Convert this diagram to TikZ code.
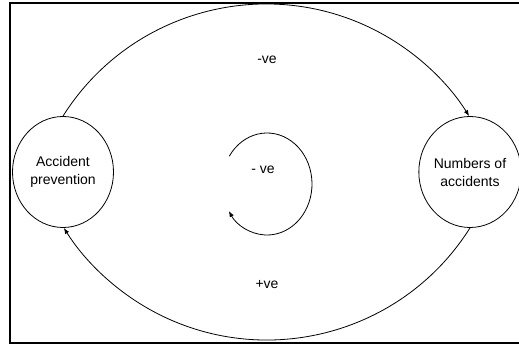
\documentclass[tikz,border=0pt]{standalone}
\usepackage{fontspec}
\setmainfont{Liberation Sans}
\usetikzlibrary{arrows.meta,shapes.geometric,calc}

\begin{document}
\begin{tikzpicture}[x=1pt,y=1pt,font=\fontsize{14}{18}\selectfont,>={Latex[length=6pt,width=4.5pt]},
 factor/.style={draw,ellipse,align=center,inner sep=0pt,minimum width=101pt,minimum height=111pt,line width=.8pt},
 arr/.style={->,line width=.8pt},
 sign/.style={inner sep=1pt}]

\useasboundingbox (0,0) rectangle (519,345);
\draw[line width=1.6pt] (10,2) rectangle (520.5,342);

\node[factor] (prev) at (63,173) {Accident\\prevention};
\node[factor] (acc) at (470,173) {Numbers of\\accidents};

% outer loop
\draw[arr] (prev.north) arc[start angle=147.8,end angle=32.2,radius=240];
\draw[arr] (acc.south) arc[start angle=-32.2,end angle=-147.8,radius=240];

\node[sign] (top) at (267,285) {-ve};
\node[sign] (bottom) at (267,60) {+ve};
\node[sign] (mid) at (263,175) {- ve};

% inner loop
\coordinate (loopstart) at ($(267,161)+(147:45 and 51)$);
\draw[arr] (loopstart) arc[start angle=147,end angle=-148,x radius=45,y radius=51];

\end{tikzpicture}
\end{document}
